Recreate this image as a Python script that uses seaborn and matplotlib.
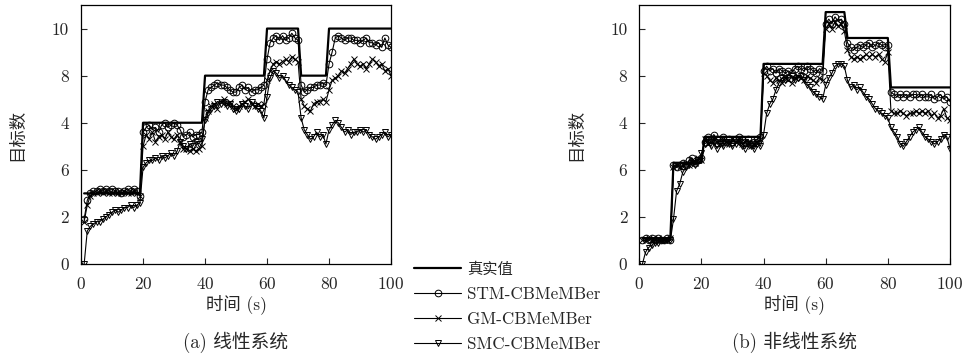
import numpy as np
import matplotlib
matplotlib.use("Agg")
import matplotlib.pyplot as plt
import seaborn as sns

# -------------------------------
# Data
# -------------------------------
t = np.arange(1, 101)

ytick_pos = [0, 2, 4, 6, 8, 10]
ytick_labels = ["0", "2", "6", "4", "8", "10"]
xtick_pos = [0, 20, 40, 60, 80, 100]

series_names = ["真实值", "STM-CBMeMBer", "GM-CBMeMBer", "SMC-CBMeMBer"]

# (a) linear system
truth_lin = [3] * 19 + [6] * 20 + [8] * 20 + [10] * 11 + [8] * 9 + [10] * 21
stm_lin = [1.9, 2.7, 3.0, 3.1, 3.1, 3.2, 3.1, 3.2, 3.1, 3.2,
           3.1, 3.1, 3.0, 3.1, 3.2, 3.1, 3.2, 3.1, 2.9, 5.6,
           5.8, 5.9, 5.7, 5.8, 5.6, 5.9, 6.0, 5.8, 5.9, 6.0,
           5.9, 5.7, 5.4, 5.5, 5.6, 5.4, 5.5, 5.5, 5.6, 6.9,
           7.4, 7.5, 7.6, 7.7, 7.6, 7.6, 7.5, 7.4, 7.3, 7.3,
           7.5, 7.6, 7.4, 7.5, 7.3, 7.4, 7.4, 7.5, 7.6, 8.7,
           9.4, 9.6, 9.7, 9.5, 9.7, 9.5, 9.6, 9.8, 9.6, 9.5,
           7.6, 7.3, 7.4, 7.5, 7.5, 7.6, 7.6, 7.7, 7.6, 8.5,
           9.0, 9.6, 9.7, 9.6, 9.5, 9.6, 9.6, 9.5, 9.5, 9.4,
           9.5, 9.6, 9.4, 9.4, 9.3, 9.4, 9.2, 9.6, 9.3, 9.2]
gm_lin = [1.8, 2.5, 2.9, 3.0, 3.0, 3.1, 3.0, 3.1, 3.0, 3.0,
          3.1, 3.0, 3.0, 3.1, 3.0, 3.0, 3.1, 3.0, 2.9, 5.0,
          5.5, 5.3, 5.6, 5.2, 5.4, 5.5, 5.3, 5.6, 5.4, 5.3,
          5.5, 5.2, 4.9, 4.9, 4.8, 4.9, 4.8, 4.9, 5.0, 6.2,
          6.5, 6.7, 6.8, 6.6, 6.9, 7.0, 6.8, 6.9, 6.7, 6.6,
          6.7, 6.8, 6.9, 7.0, 6.8, 6.7, 6.8, 6.7, 6.8, 7.8,
          8.2, 8.5, 8.6, 8.5, 8.6, 8.7, 8.6, 8.8, 8.7, 8.6,
          7.0, 6.7, 6.6, 6.5, 6.8, 6.9, 6.9, 7.0, 6.9, 7.4,
          7.8, 7.9, 8.0, 8.2, 8.1, 8.3, 8.5, 8.7, 8.5, 8.4,
          8.5, 8.3, 8.5, 8.7, 8.6, 8.4, 8.5, 8.2, 8.3, 8.0]
smc_lin = [0.0, 1.4, 1.6, 1.7, 1.8, 1.8, 1.9, 2.0, 2.1, 2.2,
           2.3, 2.2, 2.3, 2.4, 2.4, 2.5, 2.4, 2.5, 2.6, 4.1,
           4.3, 4.4, 4.4, 4.5, 4.4, 4.6, 4.5, 4.6, 4.7, 4.6,
           4.8, 5.2, 5.0, 4.9, 5.1, 5.0, 5.2, 5.1, 5.3, 6.1,
           6.4, 6.6, 6.7, 6.9, 6.8, 6.9, 6.7, 6.8, 6.6, 6.5,
           6.6, 6.8, 6.7, 6.6, 6.9, 6.7, 6.6, 6.5, 6.2, 7.1,
           7.9, 8.2, 8.1, 7.9, 8.0, 7.8, 7.6, 7.5, 7.4, 7.3,
           6.2, 5.7, 5.5, 5.3, 5.4, 5.6, 5.4, 5.5, 5.1, 5.7,
           5.9, 6.1, 6.0, 5.8, 5.6, 5.7, 5.5, 5.6, 5.6, 5.7,
           5.6, 5.7, 5.5, 5.4, 5.3, 5.4, 5.5, 5.6, 5.4, 5.5]

# (b) nonlinear system
truth_nl = [1.1] * 10 + [4.3] * 10 + [5.4] * 19 + [8.5] * 20 + [10.7] * 7 + [9.6] * 14 + [7.5] * 20
stm_nl = [1.0, 1.1, 1.0, 1.1, 1.0, 1.1, 1.0, 1.0, 1.1, 1.0,
          4.2, 4.1, 4.2, 4.3, 4.2, 4.4, 4.5, 4.3, 4.4, 4.5,
          5.2, 5.4, 5.3, 5.5, 5.3, 5.2, 5.4, 5.2, 5.3, 5.2,
          5.3, 5.4, 5.3, 5.2, 5.3, 5.1, 5.2, 5.3, 5.4, 8.2,
          8.4, 8.2, 8.3, 8.1, 8.3, 8.2, 8.1, 8.2, 8.1, 8.3,
          8.4, 8.3, 8.2, 8.4, 8.3, 8.2, 8.1, 8.3, 8.2, 10.2,
          10.4, 10.2, 10.5, 10.3, 10.4, 10.2, 9.4, 9.2, 9.1, 9.2,
          9.3, 9.2, 9.3, 9.4, 9.2, 9.3, 9.4, 9.3, 9.2, 9.3,
          7.3, 7.2, 7.1, 7.2, 7.1, 7.2, 7.1, 7.2, 7.2, 7.1,
          7.2, 7.1, 7.1, 7.2, 7.0, 7.1, 7.2, 7.0, 7.1, 6.9]
gm_nl = [1.0, 1.0, 1.1, 1.0, 1.0, 1.1, 1.0, 1.0, 1.0, 1.1,
         4.1, 4.2, 4.1, 4.2, 4.3, 4.2, 4.4, 4.3, 4.5, 4.4,
         5.3, 5.1, 5.2, 5.3, 5.2, 5.1, 5.3, 5.2, 5.1, 5.3,
         5.2, 5.3, 5.1, 5.2, 5.2, 5.0, 5.1, 5.2, 5.3, 8.1,
         8.0, 7.8, 7.7, 7.9, 7.8, 7.7, 7.9, 7.8, 7.7, 7.9,
         8.0, 7.9, 7.8, 8.0, 7.9, 7.8, 7.7, 7.9, 7.8, 10.0,
         10.2, 10.0, 10.3, 10.1, 10.2, 9.9, 9.1, 8.8, 8.7, 8.8,
         8.7, 8.8, 8.9, 8.8, 8.9, 8.8, 8.9, 8.7, 8.6, 9.0,
         6.5, 6.4, 6.4, 6.5, 6.4, 6.3, 6.4, 6.4, 6.5, 6.4,
         6.5, 6.4, 6.5, 6.3, 6.4, 6.2, 6.3, 6.6, 6.2, 6.1]
smc_nl = [0.0, 0.5, 0.7, 0.8, 0.9, 0.9, 1.0, 1.0, 1.0, 1.0,
          1.9, 3.1, 3.4, 3.9, 4.1, 4.2, 4.3, 4.2, 4.4, 4.7,
          5.1, 5.2, 5.0, 5.2, 4.9, 5.1, 5.0, 5.2, 5.1, 5.0,
          5.1, 5.2, 5.0, 4.9, 5.1, 5.0, 4.9, 5.1, 5.0, 5.5,
          6.4, 6.8, 7.0, 7.4, 7.7, 7.9, 7.8, 7.9, 8.0, 7.8,
          7.9, 8.0, 7.8, 7.6, 7.5, 7.3, 7.2, 7.1, 7.0, 7.6,
          7.9, 8.1, 8.4, 8.5, 8.5, 8.4, 7.8, 7.5, 7.6, 7.4,
          7.5, 7.3, 7.1, 7.0, 6.8, 6.6, 6.5, 6.4, 6.3, 6.2,
          5.8, 5.6, 5.4, 5.1, 5.0, 5.2, 5.4, 5.6, 5.7, 5.8,
          5.6, 5.4, 5.3, 5.2, 5.1, 5.2, 5.3, 5.5, 5.4, 4.9]

panels = [
    ("(a) 线性系统", [truth_lin, stm_lin, gm_lin, smc_lin]),
    ("(b) 非线性系统", [truth_nl, stm_nl, gm_nl, smc_nl]),
]

# -------------------------------
# Style
# -------------------------------
sns.set_style("ticks")
plt.rcParams["font.family"] = ["cmr10", "Noto Sans CJK SC", "DejaVu Sans"]
plt.rcParams["axes.formatter.use_mathtext"] = True
plt.rcParams["font.size"] = 12

markers = [None, "o", "x", "v"]
widths = [1.6, 0.8, 0.8, 0.8]

fig = plt.figure(figsize=(9.66, 3.56), dpi=100)
axes = [fig.add_axes([0.0839, 0.2584, 0.3209, 0.7275]),
        fig.add_axes([0.6618, 0.2584, 0.3216, 0.7275])]

for ax, (caption, data) in zip(axes, panels):
    for name, vals, mk, lw in zip(series_names, data, markers, widths):
        sns.lineplot(x=t, y=vals, ax=ax, color="black", linewidth=lw,
                     marker=mk, markersize=4.8 if mk != "x" else 4.2,
                     markerfacecolor="none", markeredgecolor="black",
                     markeredgewidth=0.7, label=name, legend=False)
    ax.set_xlim(0, 100)
    ax.set_ylim(0, 11)
    ax.set_xticks(xtick_pos)
    ax.set_yticks(ytick_pos)
    ax.set_yticklabels(ytick_labels)
    ax.tick_params(direction="in", length=4, width=0.8, labelsize=12.5,
                   top=False, right=False, pad=8.5)
    for s in ax.spines.values():
        s.set_color("black")
        s.set_linewidth(0.9)
    ax.set_xlabel("时间 (s)", fontsize=12.5, labelpad=2)
    ax.set_ylabel("目标数", fontsize=12.5, labelpad=19)
    ax.text(0.5, -0.301, caption, transform=ax.transAxes, ha="center",
            va="center", fontsize=13.5)

handles, labels = axes[0].get_legend_handles_labels()
leg = fig.legend(handles, labels, loc="center", bbox_to_anchor=(0.5254, 0.137),
                 frameon=False, fontsize=12.3, handlelength=2.75, numpoints=1,
                 labelspacing=0.56, handletextpad=0.35, borderpad=0.2)
leg.get_texts()[0].set_fontsize(11)

fig.savefig("out.png", dpi=100)
